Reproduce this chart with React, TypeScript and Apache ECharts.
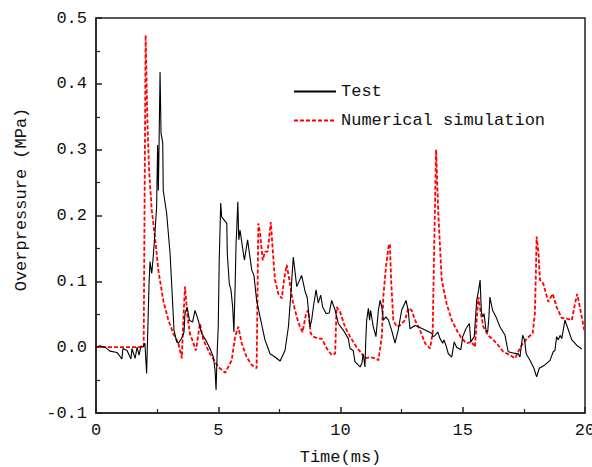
import React, { useEffect, useRef } from "react";
import * as echarts from "echarts";

const testTime = [0, 0.16, 0.37, 0.57, 0.86, 1.06, 1.1, 1.27, 1.43, 1.47, 1.6, 1.68, 1.76, 1.84, 1.92, 2.0, 2.07, 2.17, 2.21, 2.28, 2.34, 2.41, 2.48, 2.52, 2.55, 2.58, 2.62, 2.66, 2.73, 2.75, 2.89, 3.03, 3.1, 3.19, 3.3, 3.37, 3.51, 3.6, 3.64, 3.73, 3.82, 3.95, 4.05, 4.18, 4.32, 4.53, 4.66, 4.8, 4.87, 4.91, 4.96, 5.0, 5.04, 5.1, 5.14, 5.35, 5.37, 5.45, 5.52, 5.59, 5.64, 5.69, 5.73, 5.75, 5.8, 5.84, 5.89, 5.96, 6.07, 6.2, 6.37, 6.46, 6.57, 6.71, 6.91, 7.12, 7.32, 7.53, 7.73, 7.87, 7.96, 8.07, 8.21, 8.41, 8.55, 8.64, 8.75, 8.82, 8.89, 9.0, 9.09, 9.19, 9.27, 9.41, 9.54, 9.64, 9.78, 9.91, 10.11, 10.32, 10.39, 10.52, 10.59, 10.8, 10.87, 10.93, 11.0, 11.03, 11.07, 11.14, 11.19, 11.23, 11.34, 11.45, 11.55, 11.62, 11.69, 11.75, 11.86, 11.96, 12.09, 12.23, 12.36, 12.5, 12.68, 12.77, 12.84, 13.05, 13.18, 13.46, 13.73, 13.8, 13.87, 13.98, 14.07, 14.18, 14.23, 14.31, 14.41, 14.55, 14.65, 14.75, 14.92, 15.0, 15.13, 15.27, 15.33, 15.47, 15.57, 15.65, 15.71, 15.76, 15.82, 15.87, 15.95, 16.02, 16.07, 16.11, 16.22, 16.36, 16.52, 16.73, 16.82, 16.86, 17.07, 17.27, 17.34, 17.45, 17.53, 17.59, 17.62, 17.75, 17.91, 18.02, 18.13, 18.36, 18.57, 18.7, 18.77, 18.84, 18.91, 18.98, 19.05, 19.18, 19.32, 19.46, 19.66, 19.87];
const testValue = [0, 0.002, 0.0, -0.006, -0.008, -0.018, -0.002, -0.005, -0.018, -0.002, -0.017, 0.0, -0.012, 0.002, 0.0, 0.006, -0.04, 0.097, 0.13, 0.112, 0.137, 0.173, 0.213, 0.307, 0.238, 0.31, 0.418, 0.325, 0.31, 0.238, 0.203, 0.142, 0.092, 0.026, 0.008, 0.006, 0.014, 0.023, 0.051, 0.061, 0.041, 0.038, 0.056, 0.041, 0.021, 0.008, -0.002, -0.015, -0.035, -0.065, -0.005, 0.031, 0.132, 0.219, 0.198, 0.188, 0.142, 0.097, 0.087, 0.061, 0.023, 0.092, 0.16, 0.173, 0.221, 0.163, 0.178, 0.16, 0.132, 0.163, 0.117, 0.109, 0.071, 0.046, 0.011, -0.01, -0.015, -0.021, -0.005, 0.031, 0.076, 0.137, 0.092, 0.109, 0.085, 0.075, 0.031, 0.041, 0.061, 0.087, 0.067, 0.079, 0.061, 0.051, 0.052, 0.071, 0.056, 0.036, 0.026, 0.013, -0.002, -0.005, -0.022, -0.03, -0.025, -0.01, -0.03, 0.006, 0.041, 0.059, 0.041, 0.056, 0.031, 0.016, 0.056, 0.071, 0.061, 0.041, 0.046, 0.041, 0.026, 0.006, 0.026, 0.056, 0.071, 0.056, 0.028, 0.033, 0.031, 0.026, 0.021, 0.016, 0.018, 0.023, 0.013, 0.006, 0.011, 0.003, -0.01, -0.015, 0.008, 0.0, -0.004, 0.016, 0.028, 0.036, 0.008, 0.016, 0.071, 0.087, 0.102, 0.054, 0.046, 0.051, 0.026, 0.023, 0.046, 0.076, 0.056, 0.046, 0.031, 0.018, 0.0, -0.007, -0.009, -0.01, -0.015, 0.018, 0.011, -0.009, -0.012, -0.02, -0.032, -0.045, -0.032, -0.027, -0.02, -0.007, -0.005, 0.016, 0.011, 0.018, 0.013, 0.041, 0.026, 0.011, 0.003, -0.003];

const simTime = [0, 1.95, 2.03, 2.1, 2.17, 2.28, 2.41, 2.55, 2.75, 2.96, 3.16, 3.37, 3.51, 3.57, 3.64, 3.73, 3.84, 4.09, 4.25, 4.39, 4.66, 5.0, 5.28, 5.55, 5.69, 5.82, 5.96, 6.16, 6.37, 6.57, 6.64, 6.71, 6.82, 6.91, 7.02, 7.15, 7.23, 7.32, 7.46, 7.6, 7.69, 7.8, 7.91, 8.04, 8.21, 8.34, 8.45, 8.59, 8.68, 8.78, 8.89, 9.09, 9.23, 9.44, 9.64, 9.78, 9.84, 9.98, 10.18, 10.39, 10.66, 10.87, 11.0, 11.21, 11.41, 11.55, 11.69, 11.75, 11.86, 11.96, 12.02, 12.07, 12.16, 12.3, 12.43, 12.64, 12.77, 12.91, 13.05, 13.25, 13.46, 13.66, 13.77, 13.82, 13.91, 14.0, 14.14, 14.34, 14.55, 14.75, 14.96, 15.16, 15.37, 15.5, 15.57, 15.64, 15.73, 15.84, 16.04, 16.25, 16.45, 16.66, 16.93, 17.14, 17.27, 17.41, 17.62, 17.86, 17.95, 18.0, 18.02, 18.09, 18.16, 18.29, 18.5, 18.68, 18.84, 19.05, 19.22, 19.46, 19.59, 19.68, 19.79, 19.97];
const simValue = [0, 0, 0.474, 0.345, 0.269, 0.208, 0.168, 0.117, 0.071, 0.041, 0.021, 0.006, -0.017, 0.041, 0.092, 0.051, 0.021, -0.005, 0.036, 0.011, -0.01, -0.03, -0.039, -0.02, 0.016, 0.031, 0.006, -0.015, -0.027, -0.032, 0.188, 0.173, 0.132, 0.145, 0.145, 0.19, 0.147, 0.102, 0.081, 0.074, 0.102, 0.125, 0.102, 0.071, 0.046, 0.031, 0.023, 0.051, 0.056, 0.021, 0.016, 0.013, 0.013, -0.002, -0.012, -0.01, 0.061, 0.054, 0.031, 0.016, 0.0, -0.01, -0.017, -0.015, -0.017, -0.02, 0.016, 0.076, 0.122, 0.152, 0.157, 0.102, 0.041, 0.031, 0.033, 0.041, 0.059, 0.056, 0.041, 0.026, 0.006, -0.002, 0.021, 0.13, 0.3, 0.203, 0.102, 0.066, 0.041, 0.026, 0.013, 0.006, 0.008, 0.0, 0.041, 0.076, 0.054, 0.031, 0.018, 0.011, 0.003, -0.007, -0.012, -0.017, -0.007, 0.003, 0.013, 0.021, 0.051, 0.127, 0.168, 0.147, 0.102, 0.097, 0.069, 0.081, 0.061, 0.044, 0.044, 0.041, 0.066, 0.081, 0.061, 0.026];

const seriesNames = ["Test", "Numerical simulation"];
const xTicks = [0, 5, 10, 15, 20];
const yTicks = [-0.1, 0, 0.1, 0.2, 0.3, 0.4, 0.5];

const FONT = "Liberation Mono";

export default function App() {
  const ref = useRef<HTMLDivElement>(null);
  useEffect(() => {
    document.body.style.margin = "0";
    if (!ref.current) return;
    const chart = echarts.init(ref.current, undefined, { renderer: "svg" });
    const testData = testTime.map((t, i) => [t, testValue[i]]);
    const simData = simTime.map((t, i) => [t, simValue[i]]);
    chart.setOption({
      animation: false,
      backgroundColor: "#fff",
      textStyle: { fontFamily: FONT },
      grid: {
        left: 96,
        right: 7,
        top: 18,
        bottom: 54,
        outerBoundsMode: "none",
        containLabel: false,
        show: true,
        borderColor: "#222",
        borderWidth: 1.5,
        backgroundColor: "transparent",
      },
      legend: {
        orient: "vertical",
        left: 288,
        top: 78,
        itemWidth: 42,
        itemHeight: 14,
        itemGap: 12,
        itemStyle: { opacity: 0 },
        data: [
          { name: seriesNames[0] },
          { name: seriesNames[1] },
        ],
        textStyle: { fontFamily: FONT, fontSize: 17, color: "#111" },
      },
      xAxis: {
        type: "value",
        min: xTicks[0],
        max: xTicks[xTicks.length - 1],
        interval: 5,
        name: "Time(ms)",
        nameLocation: "middle",
        nameGap: 36,
        nameTextStyle: { fontFamily: FONT, fontSize: 17, color: "#111" },
        axisLine: { show: true, onZero: false, lineStyle: { color: "#222", width: 1.5 } },
        axisTick: { show: true, inside: true, length: 6, lineStyle: { color: "#222", width: 1.5 } },
        minorTick: { show: true, splitNumber: 2, length: 4, lineStyle: { color: "#222", width: 1.2 } },
        splitLine: { show: false },
        axisLabel: { fontFamily: FONT, fontSize: 17, color: "#111", margin: 9 },
      },
      yAxis: {
        type: "value",
        min: yTicks[0],
        max: yTicks[yTicks.length - 1],
        interval: 0.1,
        name: "Overpressure (MPa)",
        nameLocation: "middle",
        nameGap: 66,
        nameTextStyle: { fontFamily: FONT, fontSize: 17, color: "#111", padding: [0, 0, 0, 32] },
        axisLine: { show: true, onZero: false, lineStyle: { color: "#222", width: 1.5 } },
        axisTick: { show: true, inside: true, length: 6, lineStyle: { color: "#222", width: 1.5 } },
        minorTick: { show: true, splitNumber: 2, length: 4, lineStyle: { color: "#222", width: 1.2 } },
        splitLine: { show: false },
        axisLabel: {
          fontFamily: FONT,
          fontSize: 17,
          color: "#111",
          margin: 9,
          formatter: (v: number) => v.toFixed(1),
        },
      },
      series: [
        {
          name: seriesNames[0],
          type: "line",
          data: testData,
          symbol: "none",
          lineStyle: { color: "#000", width: 1.1 },
          itemStyle: { color: "#000" },
          z: 3,
        },
        {
          name: seriesNames[1],
          type: "line",
          data: simData,
          symbol: "none",
          lineStyle: { color: "#ff0000", width: 1.8, type: [4, 2] },
          itemStyle: { color: "#ff0000" },
          z: 2,
        },
      ],
    });
    return () => chart.dispose();
  }, []);
  return <div ref={ref} style={{ width: 592, height: 467 }} />;
}
